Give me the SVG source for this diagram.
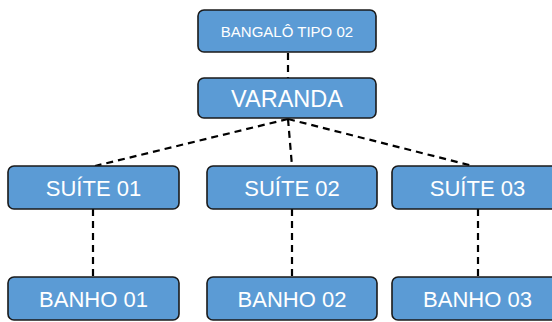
<svg xmlns="http://www.w3.org/2000/svg" width="552" height="322" viewBox="0 0 552 322">
<style>
.box{fill:#5B9BD5;stroke:#1a1a1a;stroke-width:1.6}
.t{font-family:"Liberation Sans",Arial,sans-serif;fill:#fff;text-anchor:middle;dominant-baseline:central}
.c{stroke:#000;stroke-width:2.2;stroke-dasharray:7 5;fill:none}
</style>
<rect width="552" height="322" fill="#fff"/>
<g id="connectors">
<line class="c" x1="288" y1="53" x2="288" y2="78"/>
<line class="c" x1="288" y1="119" x2="95" y2="166"/>
<line class="c" x1="288" y1="119" x2="292" y2="166"/>
<line class="c" x1="288" y1="119" x2="473" y2="166"/>
<line class="c" x1="93" y1="209" x2="93" y2="277"/>
<line class="c" x1="292" y1="209" x2="292" y2="277"/>
<line class="c" x1="478" y1="209" x2="478" y2="277"/>
</g>
<g id="bangalo"><rect class="box" x="198" y="10" width="178" height="42" rx="6"/><text class="t" x="287" y="31.5" font-size="15">BANGALÔ TIPO 02</text></g>
<g id="varanda"><rect class="box" x="198" y="78" width="178" height="40" rx="6"/><text class="t" x="287" y="99" font-size="23.5">VARANDA</text></g>
<g id="suite01"><rect class="box" x="8" y="166" width="171" height="43" rx="6"/><text class="t" x="93.5" y="188" font-size="22">SUÍTE 01</text></g>
<g id="suite02"><rect class="box" x="207" y="166" width="170" height="43" rx="6"/><text class="t" x="292" y="188" font-size="22">SUÍTE 02</text></g>
<g id="suite03"><rect class="box" x="392" y="166" width="171" height="43" rx="6"/><text class="t" x="477.5" y="188" font-size="22">SUÍTE 03</text></g>
<g id="banho01"><rect class="box" x="8" y="277" width="171" height="43" rx="6"/><text class="t" x="93.5" y="299" font-size="22">BANHO 01</text></g>
<g id="banho02"><rect class="box" x="207" y="277" width="170" height="43" rx="6"/><text class="t" x="292" y="299" font-size="22">BANHO 02</text></g>
<g id="banho03"><rect class="box" x="392" y="277" width="171" height="43" rx="6"/><text class="t" x="477.5" y="299" font-size="22">BANHO 03</text></g>
</svg>
